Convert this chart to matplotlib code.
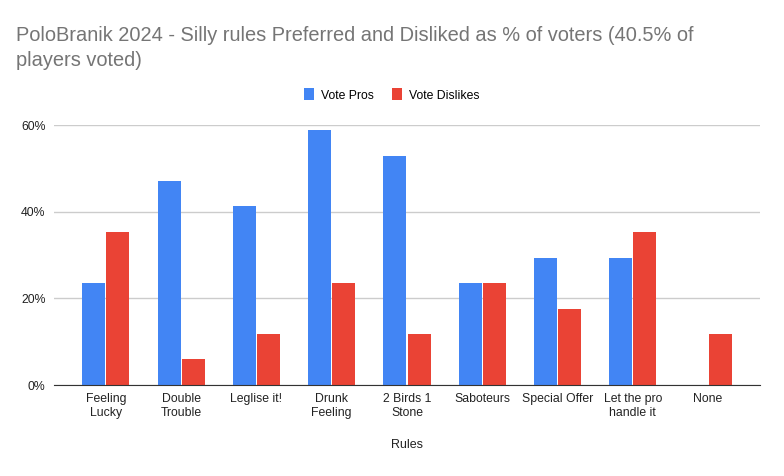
import matplotlib.pyplot as plt
import numpy as np

rules = ["Feeling\nLucky", "Double\nTrouble", "Leglise it!", "Drunk\nFeeling",
         "2 Birds 1\nStone", "Saboteurs", "Special Offer", "Let the pro\nhandle it", "None"]
pros = [0.235, 0.471, 0.412, 0.588, 0.529, 0.235, 0.294, 0.294, 0.0]
dislikes = [0.353, 0.059, 0.118, 0.235, 0.118, 0.235, 0.176, 0.353, 0.118]

plt.rcParams['font.family'] = ['Liberation Sans', 'DejaVu Sans']

fig = plt.figure(figsize=(7.84, 4.76), dpi=100)
ax = fig.add_axes([54 / 784, 1 - 385 / 476, 706 / 784, 260 / 476])

x = np.arange(len(rules))
w = 0.306
ax.bar(x - 0.16, pros, w, color="#4285F4", label="Vote Pros")
ax.bar(x + 0.16, dislikes, w, color="#EA4335", label="Vote Dislikes")

ax.set_xlim(-0.69, 8.69)
ax.set_ylim(0, 0.6)
ax.set_yticks([0, 0.2, 0.4, 0.6])
ax.set_yticklabels(["0%", "20%", "40%", "60%"])
ax.set_xticks(x)
ax.set_xticklabels(rules, fontsize=8.8, color="#222222", linespacing=1.2)
ax.tick_params(axis="y", labelsize=8.8, labelcolor="#222222", length=0, pad=6)
ax.tick_params(axis="x", length=0, pad=6)
ax.grid(axis="y", color="#cccccc", linewidth=1)
ax.set_axisbelow(True)
for s in ["top", "right", "left"]:
    ax.spines[s].set_visible(False)
ax.spines["bottom"].set_color("#333333")
ax.set_xlabel("Rules", fontsize=9, color="#222222", labelpad=14)

fig.text(16 / 784, 1 - 26 / 476,
         "PoloBranik 2024 - Silly rules Preferred and Disliked as % of voters (40.5% of\nplayers voted)",
         fontsize=14.4, color="#757575", va="top", ha="left", linespacing=1.4)

fig.legend(loc="center", bbox_to_anchor=(392 / 784, 1 - 95 / 476), ncol=2, frameon=False,
           fontsize=8.8, handlelength=0.8, handleheight=1.1, columnspacing=1.5, handletextpad=0.6)

plt.savefig("out.png", dpi=100)
plt.close()
